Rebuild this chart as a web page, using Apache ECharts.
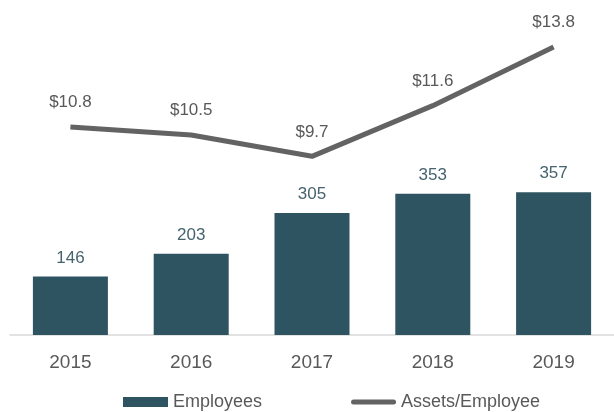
<!DOCTYPE html>
<html><head><meta charset="utf-8">
<script src="https://cdn.jsdelivr.net/npm/echarts@6/dist/echarts.min.js"></script>
<style>html,body{margin:0;padding:0;background:#fff}#c{width:614px;height:412px}</style>
</head><body><div id="c"></div>
<script>
const years = ['2015', '2016', '2017', '2018', '2019'];
const employees = [146, 203, 305, 353, 357];
const assetsPerEmployee = [10.8, 10.5, 9.7, 11.6, 13.8];

const font = 'Liberation Sans';
const chart = echarts.init(document.getElementById('c'));
chart.setOption({
  animation: false,
  textStyle: { fontFamily: font },
  grid: { left: 10, top: 15, width: 610, height: 320, containLabel: false },
  legend: {
    left: 118, top: 388,
    itemWidth: 45, itemHeight: 10, itemGap: 89,
    textStyle: { fontFamily: font, fontSize: 18, color: '#595959' },
    data: [
      { name: 'Employees', icon: 'rect' },
      { name: 'Assets/Employee', icon: 'path://M2.5,0 H42.5 A2.5,2.5 0 0 1 42.5,5 H2.5 A2.5,2.5 0 0 1 2.5,0 Z', itemStyle: { color: '#636363' } }
    ]
  },
  xAxis: {
    type: 'category', data: years,
    axisLine: { lineStyle: { color: '#d9d9d9', width: 1.5 } },
    axisTick: { show: false },
    axisLabel: { fontFamily: font, fontSize: 19, color: '#595959', margin: 18 }
  },
  yAxis: [
    { type: 'value', min: 0, max: 800, show: false, splitLine: { show: false } },
    { type: 'value', min: 3, max: 15, show: false, splitLine: { show: false } }
  ],
  series: [
    {
      name: 'Employees', type: 'bar', data: employees, barWidth: 75,
      itemStyle: { color: '#2e5461' },
      label: { show: true, position: 'top', distance: 10, fontFamily: font, fontSize: 17, color: '#46636e' }
    },
    {
      name: 'Assets/Employee', type: 'line', yAxisIndex: 1, data: assetsPerEmployee,
      symbol: 'circle', symbolSize: 0, showSymbol: true,
      lineStyle: { color: '#636363', width: 5 },
      itemStyle: { color: '#636363' },
      label: {
        show: true, position: 'top', distance: 16, fontFamily: font, fontSize: 17, color: '#595959',
        formatter: p => '$' + p.value.toFixed(1)
      }
    }
  ]
});
</script></body></html>
